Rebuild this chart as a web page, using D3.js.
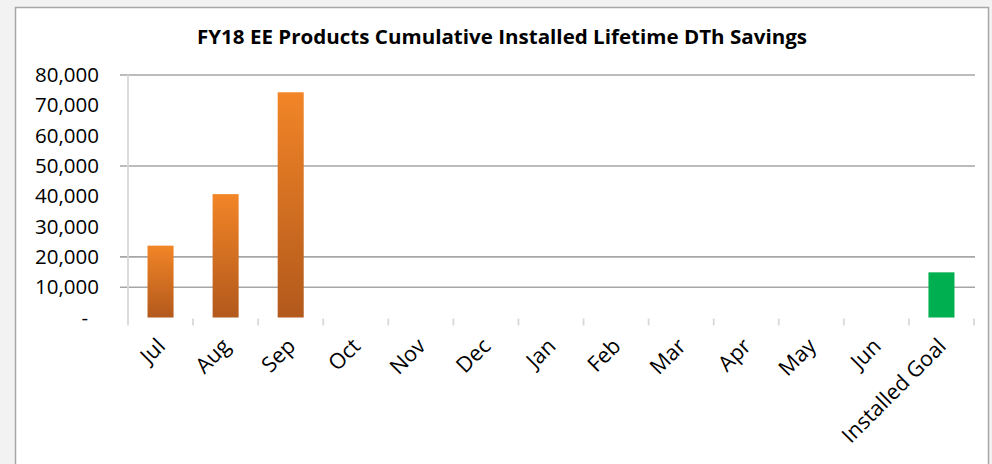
<!DOCTYPE html>
<html>
<head>
<meta charset="utf-8">
<script src="https://cdn.jsdelivr.net/npm/d3@7/dist/d3.min.js"></script>
<style>
  html, body { margin: 0; padding: 0; background: #f2f2f2; }
  svg { display: block; }
</style>
</head>
<body>
<svg id="chart" width="992" height="464"></svg>
<script>
const title = "FY18 EE Products Cumulative Installed Lifetime DTh Savings";
const months = ["Jul", "Aug", "Sep", "Oct", "Nov", "Dec", "Jan", "Feb", "Mar", "Apr", "May", "Jun"];
const cumulativeSavings = [23700, 40700, 74300, 0, 0, 0, 0, 0, 0, 0, 0, 0];
const goalLabel = "Installed Goal";
const goalValue = 14900;
const yTicks = [0, 10000, 20000, 30000, 40000, 50000, 60000, 70000, 80000];
const yGridValues = [10000, 20000, 50000, 80000];

(function () {
const categories = months.concat([goalLabel]);
const data = months.map((m, i) => ({ cat: m, value: cumulativeSavings[i], goal: false }))
  .concat([{ cat: goalLabel, value: goalValue, goal: true }]);

const svg = d3.select("#chart");
const font = "'Open Sans', 'DejaVu Sans', sans-serif";

// background & chart frame
svg.append("rect").attr("x", 0).attr("y", 0).attr("width", 992).attr("height", 464).attr("fill", "#f2f2f2");
svg.append("rect").attr("x", 15.5).attr("y", 7.5).attr("width", 973).attr("height", 470)
  .attr("fill", "#ffffff").attr("stroke", "#a8a8a8").attr("stroke-width", 1.5);

const defs = svg.append("defs");
const og = defs.append("linearGradient").attr("id", "orangeGrad")
  .attr("x1", 0).attr("y1", 0).attr("x2", 0).attr("y2", 1);
og.append("stop").attr("offset", "0%").attr("stop-color", "#f28527");
og.append("stop").attr("offset", "100%").attr("stop-color", "#b2591c");

const pLeft = 128, pRight = 974, pTop = 75, pBottom = 317.5;

const x = d3.scaleBand().domain(categories).range([pLeft, pRight]).paddingInner(0.6).paddingOuter(0.3);
const y = d3.scaleLinear().domain([0, 80000]).range([pBottom, pTop]);
const step = x.step();

// gridlines
svg.append("g").selectAll("line").data(yGridValues).join("line")
  .attr("x1", pLeft - 8).attr("x2", pRight + 1)
  .attr("y1", d => y(d)).attr("y2", d => y(d))
  .attr("stroke", "#a6a6a6").attr("stroke-width", 1.6);

// y axis line
svg.append("line").attr("x1", pLeft).attr("x2", pLeft).attr("y1", pTop).attr("y2", pBottom + 8)
  .attr("stroke", "#d9d9d9").attr("stroke-width", 1.8);

// category tick marks
const boundaries = categories.map(c => x(c) + x.bandwidth() / 2 - step / 2).concat([pRight]);
svg.append("g").selectAll("line").data(boundaries.slice(1)).join("line")
  .attr("x1", d => d).attr("x2", d => d).attr("y1", pBottom + 1).attr("y2", pBottom + 8)
  .attr("stroke", "#d9d9d9").attr("stroke-width", 1.8);

// bars
svg.append("g").selectAll("rect").data(data).join("rect")
  .attr("x", d => x(d.cat))
  .attr("width", x.bandwidth())
  .attr("y", d => y(d.value))
  .attr("height", d => y(0) - y(d.value))
  .attr("fill", d => d.goal ? "#00b050" : "url(#orangeGrad)")
  .attr("stroke", d => d.value === 0 ? "#eeeeee" : "none")
  .attr("stroke-width", 1);

// y labels
svg.append("g").selectAll("text").data(yTicks).join("text")
  .attr("x", d => d === 0 ? 88 : 99)
  .attr("y", d => y(d))
  .attr("dy", "0.35em")
  .attr("text-anchor", "end")
  .attr("font-family", font).attr("font-size", 20.5).attr("fill", "#000")
  .text(d => d === 0 ? "-" : d3.format(",")(d));

// x labels
svg.append("g").selectAll("text").data(categories).join("text")
  .attr("transform", c => `translate(${x(c) + x.bandwidth() / 2 + 6},${pBottom + 30}) rotate(-45)`)
  .attr("text-anchor", "end")
  .attr("font-family", font).attr("font-size", 21.5).attr("fill", "#000")
  .text(c => c);

// title
svg.append("text").attr("x", 502).attr("y", 44)
  .attr("text-anchor", "middle")
  .attr("font-family", font).attr("font-weight", "bold").attr("font-size", 20)
  .attr("textLength", 610).attr("lengthAdjust", "spacingAndGlyphs")
  .attr("fill", "#000")
  .text(title);
})();
</script>
</body>
</html>
